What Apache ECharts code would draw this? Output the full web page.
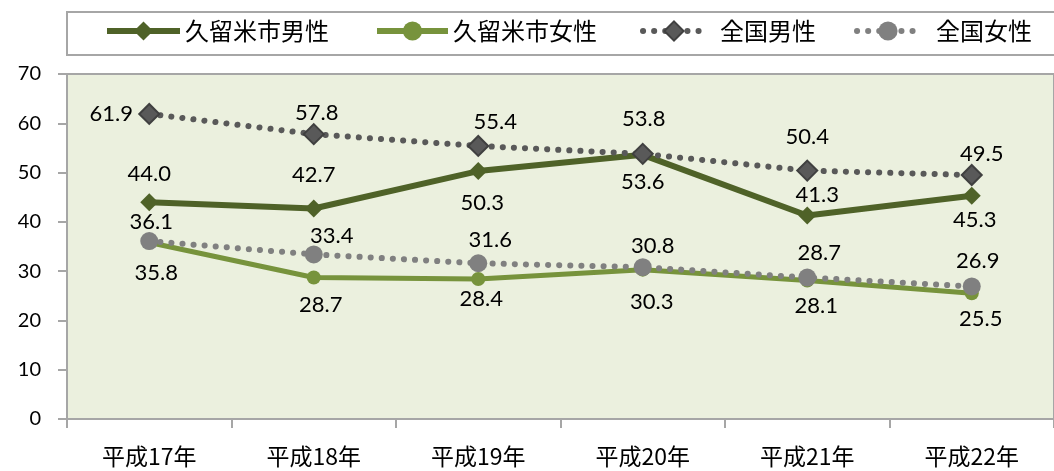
<!DOCTYPE html>
<html>
<head>
<meta charset="utf-8">
<script src="https://cdn.jsdelivr.net/npm/echarts@6/dist/echarts.min.js"></script>
<style>
  html, body { margin: 0; padding: 0; background: #ffffff; }
  #chart { width: 1054px; height: 471px; }
</style>
</head>
<body>
<div id="chart"></div>
<script>
// カテゴリ（年）
const years = ["平成17年", "平成18年", "平成19年", "平成20年", "平成21年", "平成22年"];
const yTicks = [0, 10, 20, 30, 40, 50, 60, 70];

// 系列データ
const kurumeMale = [44.0, 42.7, 50.3, 53.6, 41.3, 45.3];
const kurumeFemale = [35.8, 28.7, 28.4, 30.3, 28.1, 25.5];
const nationalMale = [61.9, 57.8, 55.4, 53.8, 50.4, 49.5];
const nationalFemale = [36.1, 33.4, 31.6, 30.8, 28.7, 26.9];

// データラベルの位置（点からのずれ）
const offKurumeMale = [[0, -28], [0, -34], [4, 32], [0, 27], [10, -21], [3, 24]];
const offKurumeFemale = [[7, 30], [7, 27], [3, 20], [9, 32], [9, 25], [9, 26]];
const offNationalMale = [[-38, 0], [3, -21], [17, -24], [1, -35], [0, -34], [10, -21]];
const offNationalFemale = [[2, -19], [18, -18], [12, -23], [10, -21], [12, -25], [6, -26]];

const labelFont = "Lato, 'Noto Sans', sans-serif";
const cjkFont = "'Noto Sans CJK JP', sans-serif";

function withLabels(values, offsets) {
  return values.map(function (v, i) {
    return {
      value: v,
      label: { offset: offsets[i] }
    };
  });
}

const baseLabel = {
  show: true,
  position: "inside",
  color: "#000000",
  fontSize: 22,
  fontFamily: labelFont,
  formatter: function (p) {
    return p.value.toFixed(1);
  }
};

// 凡例（1系列ずつ並べる）
function legendItem(name, left, width, textGap) {
  return {
    data: [name],
    left: left,
    top: 19,
    padding: 0,
    itemWidth: width,
    itemHeight: 24,
    lineStyle: { width: 6 },
    textStyle: {
      fontSize: 24,
      fontFamily: cjkFont,
      color: "#000000",
      padding: [0, 0, 0, textGap]
    }
  };
}

var chartDom = document.getElementById("chart");
var myChart = echarts.init(chartDom);
var option = {
  animation: false,
  backgroundColor: "#ffffff",
  graphic: [
    {
      type: "rect",
      shape: { x: 67, y: 12, width: 1000, height: 43 },
      style: { fill: "#ffffff", stroke: "#a6a6a6", lineWidth: 2 },
      z: -1
    }
  ],
  legend: [
    legendItem("久留米市男性", 104, 73, 0),
    legendItem("久留米市女性", 374, 71, 0),
    legendItem("全国男性", 640, 62, 10),
    legendItem("全国女性", 854, 62, 12)
  ],
  grid: {
    show: true,
    left: 67,
    right: -14,
    top: 74,
    bottom: 52,
    backgroundColor: "#ebf0de",
    borderColor: "#a6a6a6",
    borderWidth: 2
  },
  xAxis: {
    type: "category",
    data: years,
    boundaryGap: true,
    axisLine: { lineStyle: { color: "#a6a6a6", width: 2 } },
    axisTick: { show: true, length: 9, lineStyle: { color: "#a6a6a6", width: 2 } },
    axisLabel: { color: "#000000", fontSize: 23, fontFamily: cjkFont, margin: 26 },
    splitLine: { show: false }
  },
  yAxis: {
    type: "value",
    min: yTicks[0],
    max: yTicks[yTicks.length - 1],
    interval: 10,
    axisLine: { show: true, lineStyle: { color: "#a6a6a6", width: 2 } },
    axisTick: { show: true, length: 9, lineStyle: { color: "#a6a6a6", width: 2 } },
    axisLabel: { color: "#000000", fontSize: 20, fontFamily: labelFont, margin: 26 },
    splitLine: { show: false }
  },
  series: [
    {
      name: "久留米市男性",
      type: "line",
      data: withLabels(kurumeMale, offKurumeMale),
      symbol: "diamond",
      symbolSize: 18,
      color: "#4f6228",
      itemStyle: { color: "#4f6228" },
      lineStyle: { color: "#4f6228", width: 6 },
      label: baseLabel,
      z: 2
    },
    {
      name: "久留米市女性",
      type: "line",
      data: withLabels(kurumeFemale, offKurumeFemale),
      symbol: "circle",
      symbolSize: 14,
      color: "#77933c",
      itemStyle: { color: "#77933c" },
      lineStyle: { color: "#77933c", width: 5 },
      label: baseLabel,
      z: 3
    },
    {
      name: "全国男性",
      type: "line",
      data: withLabels(nationalMale, offNationalMale),
      symbol: "diamond",
      symbolSize: 20,
      color: "#595959",
      itemStyle: { color: "#595959", borderColor: "#404040", borderWidth: 2 },
      lineStyle: { color: "#595959", width: 6, type: [0.1, 11], cap: "round" },
      label: baseLabel,
      z: 4
    },
    {
      name: "全国女性",
      type: "line",
      data: withLabels(nationalFemale, offNationalFemale),
      symbol: "circle",
      symbolSize: 18,
      color: "#808080",
      itemStyle: { color: "#808080" },
      lineStyle: { color: "#808080", width: 6, type: [0.1, 11], cap: "round" },
      label: baseLabel,
      z: 5
    }
  ]
};
option && myChart.setOption(option, true);
</script>
</body>
</html>
